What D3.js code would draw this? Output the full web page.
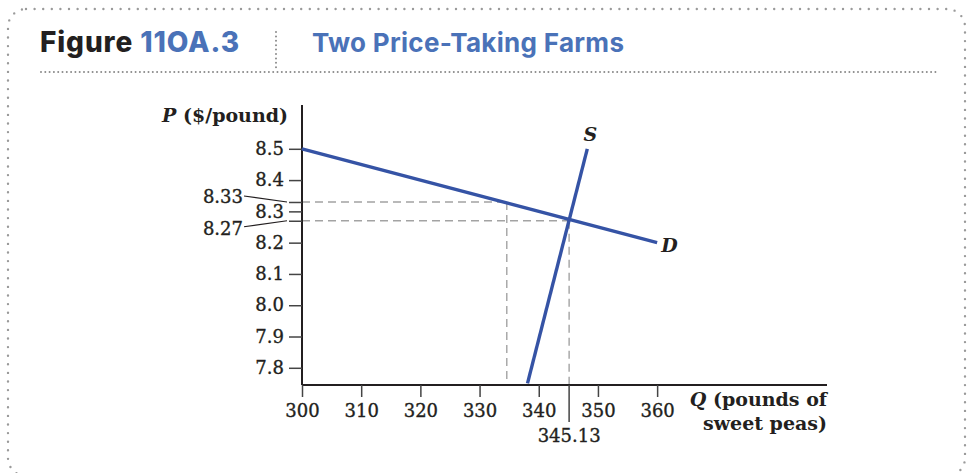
<!DOCTYPE html>
<html>
<head>
<meta charset="utf-8">
<script src="https://cdn.jsdelivr.net/npm/d3@7"></script>
<style>
  body { margin: 0; background: #fff; }
  svg { display: block; }
</style>
</head>
<body>
<div id="chart"></div>
<script>
'use strict';

// data
const demand = [{ q: 300, p: 8.5 }, { q: 360, p: 8.2 }];
const supply = [{ q: 338.1, p: 7.75 }, { q: 348.2, p: 8.5 }];
const xTicks = [300, 310, 320, 330, 340, 350, 360];
const yTicks = [7.8, 7.9, 8.0, 8.1, 8.2, 8.3, 8.4, 8.5];
const equilibrium = { q: 345.13, p: 8.27 };
const demandAt833 = { q: 334.6, p: 8.33 };
const calloutLabels = ['8.33', '8.27'];

const W = 970, H = 473;
const blue = '#3553a5';
const ink = '#231f20';
const serif = '"DejaVu Serif", "Liberation Serif", serif';

const svg = d3.select('#chart').append('svg')
    .attr('width', W)
    .attr('height', H);

// frame
svg.append('rect')
    .attr('x', 8).attr('y', 9)
    .attr('width', 957).attr('height', 467)
    .attr('rx', 18)
    .attr('fill', 'none')
    .attr('stroke', '#9a9a9a')
    .attr('stroke-width', 2.4)
    .attr('stroke-linecap', 'round')
    .attr('stroke-dasharray', '0 8.6');

// header
const head = svg.append('text')
    .attr('x', 40).attr('y', 52)
    .attr('font-family', 'Inter, Lato, sans-serif')
    .attr('font-size', 28)
    .attr('font-weight', 800)
    .attr('letter-spacing', 0.9);
head.append('tspan').attr('fill', ink).text('Figure ');
head.append('tspan').attr('fill', '#4a72b8').text('11OA.3');

svg.append('text')
    .attr('x', 312).attr('y', 52)
    .attr('font-family', 'Inter, "Open Sans", sans-serif')
    .attr('font-size', 26)
    .attr('font-weight', 700)
    .attr('letter-spacing', 0.3)
    .attr('fill', '#4a72b8')
    .text('Two Price-Taking Farms');

svg.append('line')
    .attr('x1', 276).attr('x2', 276)
    .attr('y1', 32).attr('y2', 68)
    .attr('stroke', '#8a8a8a').attr('stroke-width', 2)
    .attr('stroke-linecap', 'round')
    .attr('stroke-dasharray', '0 4.4');

svg.append('line')
    .attr('x1', 41).attr('x2', 938)
    .attr('y1', 72).attr('y2', 72)
    .attr('stroke', '#8a8a8a').attr('stroke-width', 2)
    .attr('stroke-linecap', 'round')
    .attr('stroke-dasharray', '0 4.3');

// scales
const x = d3.scaleLinear().domain([300, 388.7]).range([302, 827]);
const y = d3.scaleLinear().domain([7.745, 8.64]).range([385, 105]);

const plot = svg.append('g');

// guide lines
const guides = [
  [[x.domain()[0], demandAt833.p], [demandAt833.q, demandAt833.p]],
  [[demandAt833.q, demandAt833.p], [demandAt833.q, y.domain()[0]]],
  [[x.domain()[0], equilibrium.p], [equilibrium.q, equilibrium.p]],
  [[equilibrium.q, equilibrium.p], [equilibrium.q, y.domain()[0]]]
];
plot.selectAll('.guide')
    .data(guides)
  .enter().append('line')
    .attr('class', 'guide')
    .attr('x1', d => x(d[0][0])).attr('y1', d => y(d[0][1]))
    .attr('x2', d => x(d[1][0])).attr('y2', d => y(d[1][1]))
    .attr('stroke', '#a3a3a3')
    .attr('stroke-width', 1.4)
    .attr('stroke-dasharray', '8 5');

const numText = sel => sel
    .attr('font-family', serif).attr('font-size', 18).attr('fill', ink)
    .attr('stroke', ink).attr('stroke-width', 0.35);

// y axis
const yAxis = d3.axisLeft(y)
    .tickValues(yTicks.concat([demandAt833.p, equilibrium.p]))
    .tickSize(13)
    .tickPadding(5)
    .tickFormat(d => yTicks.includes(d) ? d3.format('.1f')(d) : '');

const gy = plot.append('g')
    .attr('transform', `translate(${x(300)},0)`)
    .call(yAxis);
gy.select('.domain').attr('stroke', ink).attr('stroke-width', 2)
    .attr('d', `M0,${y.range()[0]}V${y.range()[1]}`);
gy.selectAll('.tick line').attr('stroke', '#444').attr('stroke-width', 1.5);
gy.selectAll('.tick text').call(numText);

// x axis
const xAxis = d3.axisBottom(x)
    .tickValues(xTicks)
    .tickSize(12)
    .tickPadding(7)
    .tickFormat(d3.format('d'));

const gx = plot.append('g')
    .attr('transform', `translate(0,${y(y.domain()[0])})`)
    .call(xAxis);
gx.select('.domain').attr('stroke', ink).attr('stroke-width', 2)
    .attr('d', `M${x.range()[0]},0H${x.range()[1]}`);
gx.selectAll('.tick line').attr('stroke', '#444').attr('stroke-width', 1.5);
gx.selectAll('.tick text').call(numText);

// long tick at the equilibrium quantity
const eqTick = plot.append('g')
    .attr('transform', `translate(${x(equilibrium.q)},${y(y.domain()[0])})`);
eqTick.append('line')
    .attr('y2', 37)
    .attr('stroke', '#444').attr('stroke-width', 1.5);
eqTick.append('text')
    .attr('y', 57)
    .attr('text-anchor', 'middle')
    .call(numText)
    .text(d3.format('.2f')(equilibrium.q));

// callout labels for 8.33 and 8.27
const callouts = [
  { v: demandAt833.p, label: calloutLabels[0], ly: y(demandAt833.p) - 6, dy: 7 },
  { v: equilibrium.p, label: calloutLabels[1], ly: y(equilibrium.p) + 6, dy: 8 }
];
callouts.forEach(c => {
  plot.append('line')
      .attr('x1', x(300) - 58).attr('y1', c.ly)
      .attr('x2', x(300) - 15).attr('y2', y(c.v))
      .attr('stroke', ink).attr('stroke-width', 1.2);
  plot.append('text')
      .attr('x', x(300) - 59)
      .attr('y', c.ly + c.dy)
      .attr('text-anchor', 'end')
      .call(numText)
      .text(c.label);
});

// curves
const line = d3.line()
    .x(d => x(d.q))
    .y(d => y(d.p));

plot.append('path')
    .datum(demand)
    .attr('fill', 'none')
    .attr('stroke', blue)
    .attr('stroke-width', 3.4)
    .attr('d', line);

plot.append('path')
    .datum(supply)
    .attr('fill', 'none')
    .attr('stroke', blue)
    .attr('stroke-width', 3.4)
    .attr('d', line);

plot.append('text')
    .attr('x', x(supply[1].q) + 3)
    .attr('y', y(supply[1].p) - 8)
    .attr('text-anchor', 'middle')
    .attr('font-family', serif).attr('font-size', 19)
    .attr('font-style', 'italic').attr('font-weight', 700).attr('fill', ink)
    .text('S');

plot.append('text')
    .attr('x', x(demand[1].q) + 4)
    .attr('y', y(demand[1].p) + 9)
    .attr('font-family', serif).attr('font-size', 19)
    .attr('font-style', 'italic').attr('font-weight', 700).attr('fill', ink)
    .text('D');

// axis titles
const yTitle = plot.append('text')
    .attr('x', 288).attr('y', 122)
    .attr('text-anchor', 'end')
    .attr('font-family', serif).attr('font-size', 19)
    .attr('font-weight', 700).attr('fill', ink);
yTitle.append('tspan').attr('font-style', 'italic').text('P');
yTitle.append('tspan').text(' ($/pound)');

const xTitle = plot.append('text')
    .attr('text-anchor', 'end')
    .attr('font-family', serif).attr('font-size', 19)
    .attr('font-weight', 700).attr('fill', ink);
const t1 = xTitle.append('tspan').attr('x', 827).attr('y', 406);
t1.append('tspan').attr('font-style', 'italic').text('Q');
t1.append('tspan').text(' (pounds of');
xTitle.append('tspan').attr('x', 827).attr('y', 430).text('sweet peas)');
</script>
</body>
</html>
